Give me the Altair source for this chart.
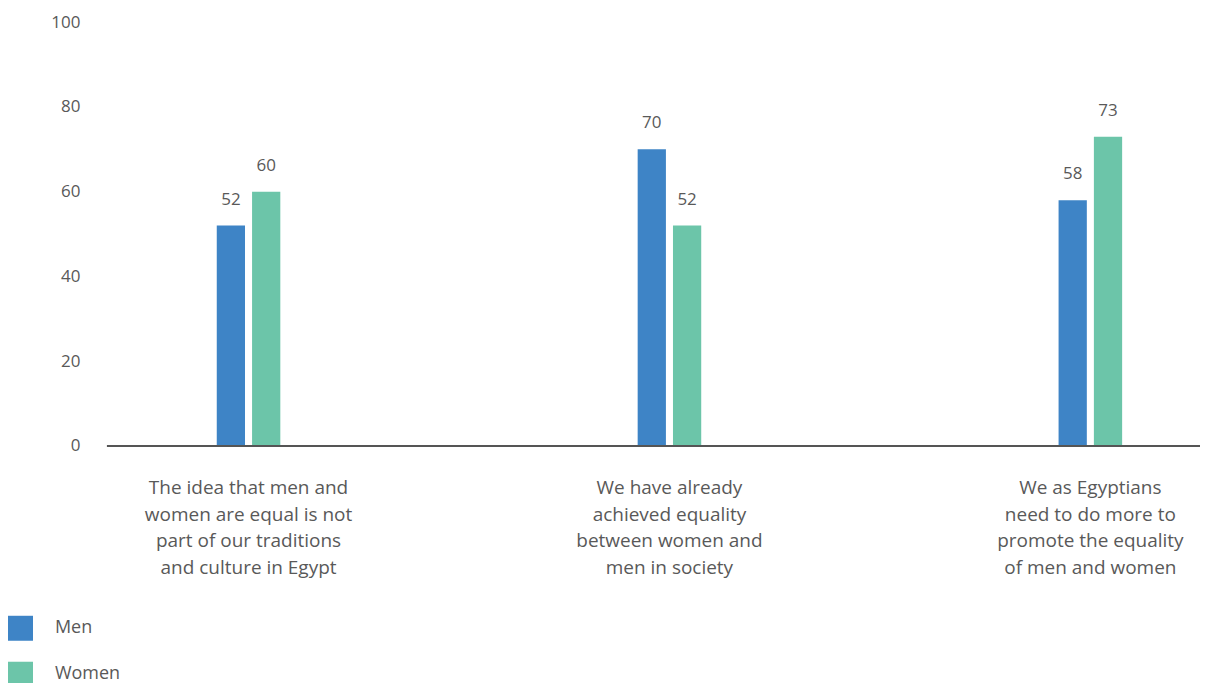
import altair as alt
import pandas as pd

categories = [
    "The idea that men and|women are equal is not|part of our traditions|and culture in Egypt",
    "We have already|achieved equality|between women and|men in society",
    "We as Egyptians|need to do more to|promote the equality|of men and women",
]
groups = ["Men", "Women"]
men = [52, 70, 58]
women = [60, 52, 73]
colors = ["#3E84C6", "#6CC5A9"]
y_ticks = [0, 20, 40, 60, 80, 100]

rows = []
for c, m, w in zip(categories, men, women):
    rows.append({"category": c, "group": "Men", "value": m})
    rows.append({"category": c, "group": "Women", "value": w})
df = pd.DataFrame(rows)

W = 1062
H = 424
font = "Open Sans"
gray = "#595959"

x = alt.X(
    "category:N", sort=categories, title=None,
    scale=alt.Scale(paddingInner=0.849, paddingOuter=0.185),
    axis=alt.Axis(labelExpr="split(datum.label, '|')", labelAngle=0, labelFontSize=19,
                  labelColor=gray, labelFont=font, labelLineHeight=26.4, labelPadding=33,
                  labelLimit=500, domain=False, ticks=False, labelBaseline="top"),
)
y = alt.Y(
    "value:Q", title=None, scale=alt.Scale(domain=[0, 100]),
    axis=alt.Axis(values=y_ticks, grid=False, domain=False, ticks=False, labelPadding=59,
                  labelFontSize=17, labelColor=gray, labelFont=font),
)
xoff = alt.XOffset("group:N", sort=groups, scale=alt.Scale(paddingInner=0.2, paddingOuter=0))
color = alt.Color(
    "group:N", sort=groups,
    scale=alt.Scale(domain=groups, range=colors),
    legend=alt.Legend(orient="none", legendX=-131, legendY=594, title=None,
                      symbolType="square", symbolSize=625, symbolStrokeWidth=0,
                      labelFontSize=18, labelFont=font, labelColor=gray, labelOffset=22,
                      rowPadding=21, padding=0),
)

base = alt.Chart(df)
bars = base.mark_bar().encode(x=x, y=y, xOffset=xoff, color=color)
labels = base.mark_text(baseline="bottom", dy=-17, fontSize=17, font=font, color=gray).encode(
    x=x, y=y, xOffset=xoff, text="value:Q")
baseline = alt.Chart(pd.DataFrame({"v": [0]})).mark_rule(color="#555555", strokeWidth=2).encode(
    y="v:Q", x=alt.value(-32), x2=alt.value(W))

chart = alt.layer(bars, labels, baseline).properties(
    width=W, height=H,
    padding={"left": 0, "top": 5, "right": 2, "bottom": 0},
).configure_view(stroke=None)

chart.save("out.html", embed_options={"renderer": "svg", "actions": False})
